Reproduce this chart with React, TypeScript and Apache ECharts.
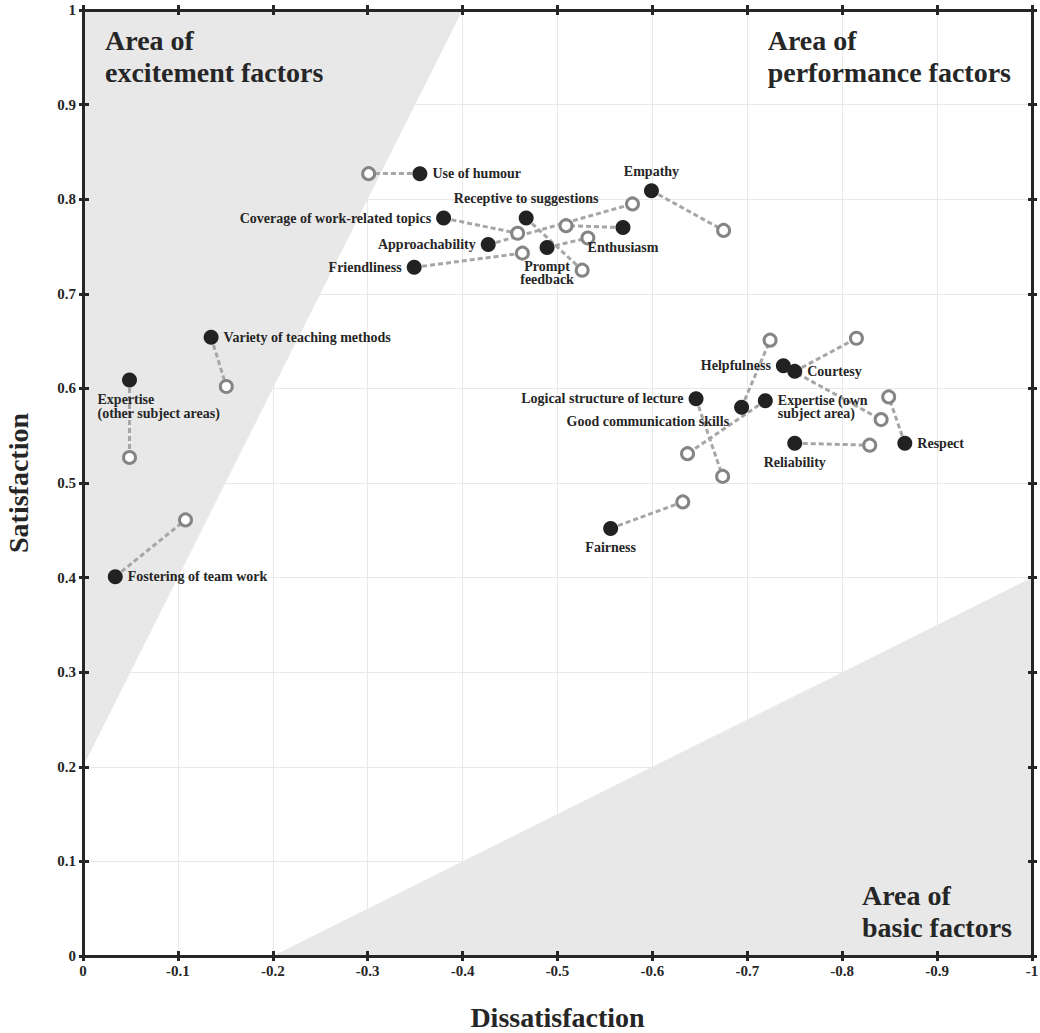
import React, { useEffect, useRef } from "react";
import * as echarts from "echarts";

// ---------- DATA ----------
const factors = [
  "Use of humour",
  "Empathy",
  "Receptive to suggestions",
  "Coverage of work-related topics",
  "Approachability",
  "Enthusiasm",
  "Prompt feedback",
  "Friendliness",
  "Variety of teaching methods",
  "Expertise (other subject areas)",
  "Fostering of team work",
  "Helpfulness",
  "Courtesy",
  "Logical structure of lecture",
  "Good communication skills",
  "Expertise (own subject area)",
  "Reliability",
  "Respect",
  "Fairness",
];

const factorLabels = [
  "Use of humour",
  "Empathy",
  "Receptive to suggestions",
  "Coverage of work-related topics",
  "Approachability",
  "Enthusiasm",
  "Prompt\nfeedback",
  "Friendliness",
  "Variety of teaching methods",
  "Expertise\n(other subject areas)",
  "Fostering of team work",
  "Helpfulness",
  "Courtesy",
  "Logical structure of lecture",
  "Good communication skills",
  "Expertise (own\nsubject area)",
  "Reliability",
  "Respect",
  "Fairness",
];

// filled markers
const dissatisfactionA = [
  -0.355, -0.599, -0.467, -0.38, -0.427, -0.569, -0.489, -0.349, -0.135, -0.049,
  -0.034, -0.738, -0.75, -0.646, -0.694, -0.719, -0.75, -0.866, -0.556,
];
const satisfactionA = [
  0.827, 0.809, 0.78, 0.78, 0.752, 0.77, 0.749, 0.728, 0.654, 0.609, 0.401, 0.624,
  0.618, 0.589, 0.58, 0.587, 0.542, 0.542, 0.452,
];

// hollow markers
const dissatisfactionB = [
  -0.301, -0.675, -0.526, -0.458, -0.579, -0.509, -0.532, -0.463, -0.151, -0.049,
  -0.108, -0.841, -0.815, -0.674, -0.724, -0.637, -0.829, -0.849, -0.632,
];
const satisfactionB = [
  0.827, 0.767, 0.725, 0.764, 0.795, 0.772, 0.759, 0.743, 0.602, 0.527, 0.461, 0.567,
  0.653, 0.507, 0.651, 0.531, 0.54, 0.591, 0.48,
];

const xTickLabels = ["0", "-0.1", "-0.2", "-0.3", "-0.4", "-0.5", "-0.6", "-0.7", "-0.8", "-0.9", "-1"];
const yTickLabels = ["0", "0.1", "0.2", "0.3", "0.4", "0.5", "0.6", "0.7", "0.8", "0.9", "1"];

const excitementArea = [[0, 0.2], [-0.4, 1], [0, 1]];
const basicArea = [[-0.2, 0], [-1, 0.4], [-1, 0]];

const areaTitles = ["Area of\nexcitement factors", "Area of\nperformance factors", "Area of\nbasic factors"];

// ---------- STYLE ----------
const FONT = '"Liberation Serif", "Times New Roman", serif';
const DARK = "#262626";

const labelPlacement: any[] = [
  { position: "right" },
  { position: "top" },
  { position: "top" },
  { position: "left" },
  { position: "left" },
  { position: "bottom" },
  { position: "bottom", lineHeight: 13 },
  { position: "left" },
  { position: "right" },
  { position: "bottom", align: "left", offset: [-32, 0], lineHeight: 14 },
  { position: "right" },
  { position: "left" },
  { position: "right" },
  { position: "left" },
  { position: "left", offset: [0, 14] },
  { position: "right", offset: [0, 6], lineHeight: 13 },
  { position: "bottom" },
  { position: "right" },
  { position: "bottom" },
];

export default function App() {
  const ref = useRef<HTMLDivElement>(null);

  useEffect(() => {
    document.body.style.margin = "0";
    document.body.style.overflow = "hidden";
    if (!ref.current) return;
    const chart = echarts.init(ref.current, undefined, { renderer: "svg" });

    const tickStyle = { color: DARK, width: 3 };
    const axisLineStyle = { color: DARK, width: 3 };
    const xBase: any = { type: "value", min: -1, max: 0, interval: 0.1, inverse: true };
    const yBase: any = { type: "value", min: 0, max: 1, interval: 0.1 };
    const labelStyle = { fontFamily: FONT, fontWeight: "bold", fontSize: 15, color: DARK };
    const nameStyle = { fontFamily: FONT, fontWeight: "bold", fontSize: 28, color: DARK };

    const xAxis = [
      {
        ...xBase,
        position: "bottom",
        axisLine: { show: true, onZero: false, lineStyle: axisLineStyle },
        axisTick: { show: true, inside: false, length: 5, lineStyle: tickStyle },
        axisLabel: {
          ...labelStyle,
          margin: 7,
          formatter: (v: number) => xTickLabels[Math.round(-v * 10)],
        },
        splitLine: { show: true, lineStyle: { color: "#e8e8e8", width: 1 } },
        name: "Dissatisfaction",
        nameLocation: "middle",
        nameGap: 47,
        nameTextStyle: nameStyle,
      },
      {
        ...xBase,
        position: "bottom",
        axisLine: { show: false, onZero: false },
        axisTick: { show: true, inside: true, length: 5, lineStyle: tickStyle },
        axisLabel: { show: false },
        splitLine: { show: false },
      },
      {
        ...xBase,
        position: "top",
        axisLine: { show: true, onZero: false, lineStyle: axisLineStyle },
        axisTick: { show: true, inside: false, length: 5, lineStyle: tickStyle },
        axisLabel: { show: false },
        splitLine: { show: false },
      },
      {
        ...xBase,
        position: "top",
        axisLine: { show: false, onZero: false },
        axisTick: { show: true, inside: true, length: 5, lineStyle: tickStyle },
        axisLabel: { show: false },
        splitLine: { show: false },
      },
    ];

    const yAxis = [
      {
        ...yBase,
        position: "left",
        axisLine: { show: true, onZero: false, lineStyle: axisLineStyle },
        axisTick: { show: true, inside: false, length: 4, lineStyle: tickStyle },
        axisLabel: {
          ...labelStyle,
          margin: 7,
          formatter: (v: number) => yTickLabels[Math.round(v * 10)],
        },
        splitLine: { show: true, lineStyle: { color: "#e8e8e8", width: 1 } },
        name: "Satisfaction",
        nameLocation: "middle",
        nameGap: 51,
        nameRotate: 90,
        nameTextStyle: nameStyle,
      },
      {
        ...yBase,
        position: "left",
        axisLine: { show: false, onZero: false },
        axisTick: { show: true, inside: true, length: 6, lineStyle: tickStyle },
        axisLabel: { show: false },
        splitLine: { show: false },
      },
      {
        ...yBase,
        position: "right",
        axisLine: { show: true, onZero: false, lineStyle: axisLineStyle },
        axisTick: { show: true, inside: false, length: 5, lineStyle: tickStyle },
        axisLabel: { show: false },
        splitLine: { show: false },
      },
      {
        ...yBase,
        position: "right",
        axisLine: { show: false, onZero: false },
        axisTick: { show: true, inside: true, length: 4, lineStyle: tickStyle },
        axisLabel: { show: false },
        splitLine: { show: false },
      },
    ];

    const shaded = [excitementArea, basicArea];

    const option: any = {
      animation: false,
      backgroundColor: "#ffffff",
      grid: { left: 83, right: 8, top: 10, bottom: 77, outerBoundsMode: "none" },
      xAxis,
      yAxis,
      graphic: [
        {
          type: "text",
          left: 105,
          top: 24,
          z: 10,
          style: {
            text: areaTitles[0],
            font: `bold 28px ${FONT}`,
            fill: DARK,
            lineHeight: 32,
            align: "left",
          },
        },
        {
          type: "text",
          right: 1040 - 1011,
          top: 24,
          z: 10,
          style: {
            text: areaTitles[1],
            font: `bold 28px ${FONT}`,
            fill: DARK,
            lineHeight: 32,
            align: "right",
          },
        },
        {
          type: "text",
          right: 1040 - 1012,
          top: 879,
          z: 10,
          style: {
            text: areaTitles[2],
            font: `bold 28px ${FONT}`,
            fill: DARK,
            lineHeight: 32,
            align: "right",
          },
        },
      ],
      series: [
        {
          type: "custom",
          coordinateSystem: "cartesian2d",
          silent: true,
          z: -1,
          data: shaded.map((poly, i) => [poly[0][0], poly[0][1], i]),
          renderItem: (params: any, api: any) => {
            const poly = shaded[params.dataIndex];
            return {
              type: "polygon",
              shape: { points: poly.map((p) => api.coord(p)) },
              style: { fill: "#e8e8e8" },
            };
          },
        },
        {
          type: "lines",
          coordinateSystem: "cartesian2d",
          z: 3,
          silent: true,
          lineStyle: { color: "#a6a6a6", width: 3, type: [5, 3], opacity: 1 },
          data: factors.map((_, i) => ({
            coords: [
              [dissatisfactionA[i], satisfactionA[i]],
              [dissatisfactionB[i], satisfactionB[i]],
            ],
          })),
        },
        {
          type: "scatter",
          z: 4,
          symbol: "circle",
          symbolSize: 12,
          itemStyle: { color: "#ffffff", borderColor: "#858585", borderWidth: 3, opacity: 1 },
          data: factors.map((_, i) => [dissatisfactionB[i], satisfactionB[i]]),
        },
        {
          type: "scatter",
          z: 5,
          symbol: "circle",
          symbolSize: 15,
          itemStyle: { color: "#222222", opacity: 1 },
          data: factors.map((name, i) => ({
            name,
            value: [dissatisfactionA[i], satisfactionA[i]],
            label: {
              show: true,
              formatter: factorLabels[i],
              fontFamily: FONT,
              fontWeight: "bold",
              fontSize: 14,
              color: DARK,
              distance: 5,
              ...labelPlacement[i],
            },
          })),
        },
      ],
    };

    chart.setOption(option);
    return () => chart.dispose();
  }, []);

  return <div ref={ref} style={{ width: 1040, height: 1033 }} />;
}
